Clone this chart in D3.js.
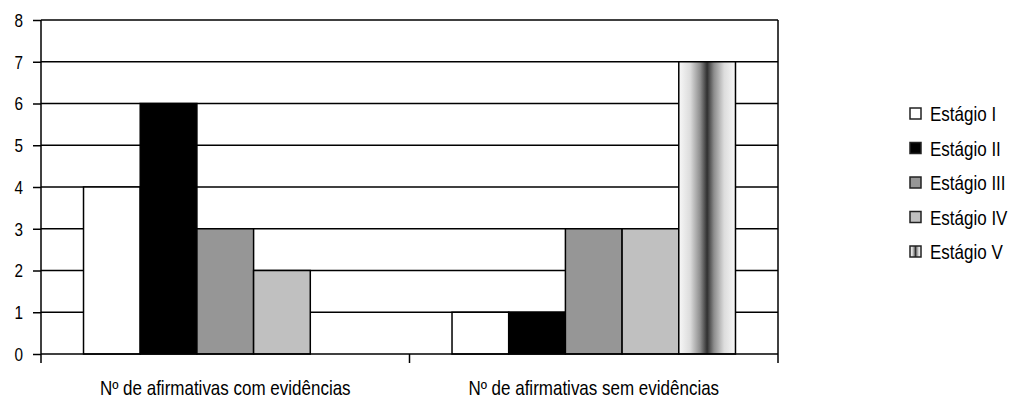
<!DOCTYPE html>
<html><head><meta charset="utf-8">
<script src="https://cdn.jsdelivr.net/npm/d3@7"></script>
<style>body{margin:0;background:#fff}svg{display:block}text{font-family:"Liberation Sans",Arial,sans-serif;fill:#000}</style>
</head><body><svg id="c" width="1012" height="401"></svg>
<script>
const categories = ["Nº de afirmativas com evidências", "Nº de afirmativas sem evidências"];
const series = ["Estágio I", "Estágio II", "Estágio III", "Estágio IV", "Estágio V"];
const values = [[4, 1], [6, 1], [3, 3], [2, 3], [0, 7]];
const yTicks = [0, 1, 2, 3, 4, 5, 6, 7, 8];
const fills = ["#ffffff", "#000000", "#969696", "#c0c0c0", "url(#gradV)"];

const SX = 0.85; // narrow font emulation
const svg = d3.select("#c");
const pL = 41, pR = 778, pT = 20, pB = 354;
const x0 = d3.scaleBand().domain(categories).range([pL, pR]).paddingInner(0).paddingOuter(0);
const x1 = d3.scaleBand().domain(series).range([0, x0.bandwidth()]).paddingOuter(0.75);
const y = d3.scaleLinear().domain([0, 8]).range([pB, pT]);

const defs = svg.append("defs");
const g = defs.append("linearGradient").attr("id", "gradV").attr("x1", "0").attr("x2", "1").attr("y1", "0").attr("y2", "0");
[[0, "#f8f8f8"], [0.2, "#dcdcdc"], [0.38, "#8c8c8c"], [0.5, "#303030"], [0.62, "#8c8c8c"], [0.8, "#dcdcdc"], [1, "#f8f8f8"]]
  .forEach(([o, c]) => g.append("stop").attr("offset", o).attr("stop-color", c));

// gridlines
svg.append("g").selectAll("line").data(yTicks.filter(d => d > 0)).join("line")
  .attr("x1", pL).attr("x2", pR).attr("y1", d => y(d)).attr("y2", d => y(d))
  .attr("stroke", "#000").attr("stroke-width", 1.5);
// right border
svg.append("line").attr("x1", pR).attr("x2", pR).attr("y1", pT).attr("y2", pB)
  .attr("stroke", "#000").attr("stroke-width", 1.5);

// bars
const bars = [];
series.forEach((s, i) => categories.forEach((c, j) => bars.push({s, c, v: values[i][j], i})));
svg.append("g").selectAll("rect").data(bars.filter(d => d.v > 0)).join("rect")
  .attr("x", d => x0(d.c) + x1(d.s)).attr("width", x1.bandwidth())
  .attr("y", d => y(d.v)).attr("height", d => y(0) - y(d.v))
  .attr("fill", d => fills[d.i]).attr("stroke", "#000").attr("stroke-width", 1.5);

// y axis
const ya = svg.append("g").attr("transform", `translate(${pL},0)`)
  .call(d3.axisLeft(y).tickValues(yTicks).tickSize(8).tickPadding(10));
ya.selectAll("path,line").attr("stroke", "#000").attr("stroke-width", 1.5);
ya.select(".domain").attr("d", `M0,${pT}V${pB}`);
ya.attr("font-family", null).attr("font-size", null);
ya.selectAll("text").style("font-size", "18px")
  .attr("x", -18 / SX).attr("transform", `scale(${SX},1)`).attr("dy", "0.36em");

// x axis
const xa = svg.append("g").attr("transform", `translate(0,${pB})`);
xa.append("line").attr("x1", pL).attr("x2", pR).attr("stroke", "#000").attr("stroke-width", 1.5);
const bnds = [pL, ...categories.map(c => x0(c) + x0.bandwidth())];
xa.selectAll("line.t").data(bnds).join("line").attr("class", "t")
  .attr("x1", d => d).attr("x2", d => d).attr("y1", 0).attr("y2", 9)
  .attr("stroke", "#000").attr("stroke-width", 1.5);
xa.selectAll("text").data(categories).join("text")
  .attr("transform", d => `translate(${x0(d) + x0.bandwidth() / 2},41) scale(${SX},1)`)
  .attr("text-anchor", "middle").style("font-size", "20px").text(d => d);

// legend
const lg = svg.append("g").attr("transform", "translate(910,108)");
const li = lg.selectAll("g").data(series).join("g").attr("transform", (d, i) => `translate(0,${i * 34.5})`);
li.append("rect").attr("width", 11).attr("height", 11).attr("fill", (d, i) => fills[i])
  .attr("stroke", "#222").attr("stroke-width", 1.5);
li.append("text").attr("transform", `translate(20,13) scale(${SX},1)`).style("font-size", "20px").text(d => d);
</script></body></html>
